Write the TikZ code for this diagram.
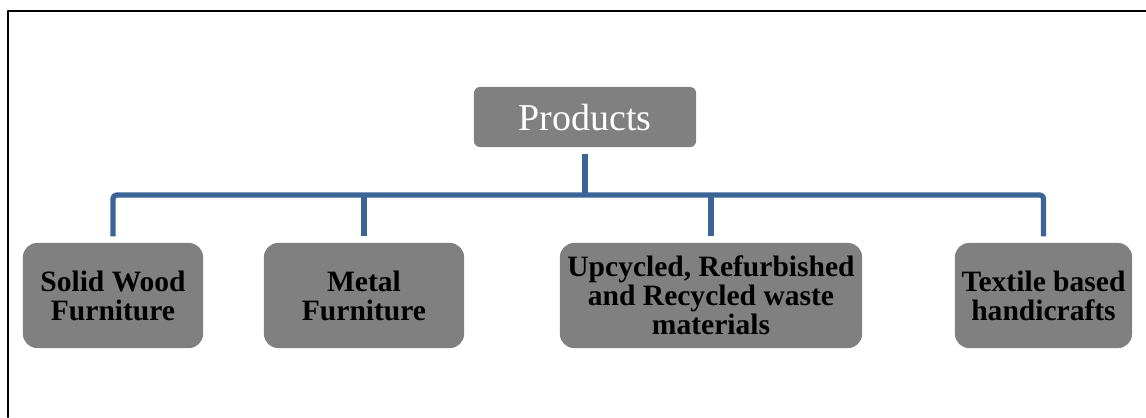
\documentclass[tikz,border=0pt]{standalone}
\usepackage{fontspec}
\setmainfont{Liberation Serif}
\definecolor{boxgray}{RGB}{128,128,128}
\definecolor{linkblue}{RGB}{60,100,150}
\begin{document}
\begin{tikzpicture}[x=0.01cm, y=0.01cm, line cap=round, line join=round]
	\tikzset{item/.style={fill=boxgray, rounded corners=4pt, minimum height=1.05cm, align=center, inner sep=0pt, font=\fontsize{8.4}{8.2}\selectfont\bfseries},
		top item/.style={fill=boxgray, rounded corners=1.7pt, minimum width=2.22cm, minimum height=0.6cm, inner sep=0pt, text=white, font=\fontsize{10.8}{12}\selectfont},
		link/.style={draw=linkblue, line width=1.5pt, line cap=butt}}
	\useasboundingbox (0,0) rectangle (1146,417);
	\draw[line width=0.6pt] (8,0)--(8,406)--(1146,406);
	\node[top item] (prod) at (585,300) {Products};
	\node[item, minimum width=1.80cm] (wood) at (113,121.5) {Solid Wood\\Furniture};
	\node[item, minimum width=2.00cm] (metal) at (364,121.5) {Metal\\Furniture};
	\node[item, minimum width=3.02cm] (waste) at (711,121.5) {Upcycled, Refurbished\\and Recycled waste\\materials};
	\node[item, minimum width=1.77cm] (craft) at (1043.5,121.5) {Textile based\\handicrafts};
	\coordinate (bus) at (585,222);
	\draw[link, shorten <=1.7pt] (prod.south) -- (prod.south |- bus);
	\draw[link, rounded corners=1pt, shorten <=1.7pt, shorten >=1.7pt] (wood.north) -- (wood.north |- bus) -- (craft.north |- bus) -- (craft.north);
	\draw[link, shorten <=1.7pt] (metal.north) -- (metal.north |- bus);
	\draw[link, shorten <=1.7pt] (waste.north) -- (waste.north |- bus);
\end{tikzpicture}
\end{document}
